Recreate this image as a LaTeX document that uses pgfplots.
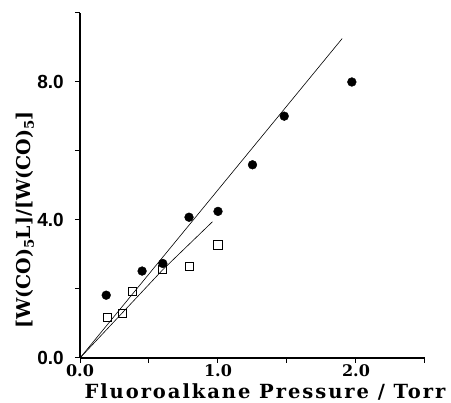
\documentclass[border=0pt]{standalone}
\usepackage{fontspec}
\setmainfont{DejaVu Serif}
\newfontfamily\tickfont{Liberation Sans}
\usepackage{pgfplots}
\pgfplotsset{compat=1.18}
\begin{document}
\begin{tikzpicture}
\useasboundingbox (0,0) rectangle (451pt,403pt);
\begin{axis}[
  at={(80pt,45pt)}, anchor=south west,
  scale only axis, width=345pt, height=345pt,
  xmin=0, xmax=2.5, ymin=0, ymax=10,
  axis x line*=bottom, axis y line*=left,
  axis line style={line width=1.1pt},
  xtick={0,0.5,...,2.5}, xticklabels={0.0,,1.0,,2.0,},
  ytick={0,2,...,10}, yticklabels={0.0,,4.0,,8.0,},
  tick align=outside, major tick length=5pt,
  tick style={line width=1pt, black},
  xticklabel style={font={\fontsize{16}{18}\selectfont\bfseries}, inner sep=1pt},
  yticklabel style={font={\fontsize{19}{20}\selectfont\tickfont\bfseries}, inner sep=2pt, xshift=-9pt},
  xlabel={Fluoroalkane Pressure / Torr},
  xlabel style={font={\fontsize{19.5}{21}\selectfont\bfseries\addfontfeature{LetterSpace=10}}, at={(axis description cs:0.536,-0.098)}, anchor=center},
  ylabel={[W(CO)\textsubscript{5}L]/[W(CO)\textsubscript{5}]},
  ylabel style={font={\fontsize{19}{21}\selectfont\bfseries}, at={(axis description cs:-0.16,0.40)}, anchor=center, rotate=0},
  clip=false,
]
\addplot[black, line width=0.6pt] coordinates {(0,0) (1.90,9.26)};
\addplot[black, line width=0.6pt] coordinates {(0,0) (0.6,2.56) (0.96,3.95)};
\addplot[only marks, mark=*, mark size=4.4pt, mark options={fill=black, draw=black}] coordinates {
(0.19,1.82) (0.45,2.52) (0.60,2.74) (0.79,4.08) (1.00,4.25) (1.25,5.60) (1.48,7.01) (1.97,8.00)};
\addplot[only marks, mark=square, mark size=4.1pt, mark options={draw=black, fill=white, line width=0.8pt}] coordinates {
(0.20,1.17) (0.31,1.30) (0.38,1.93) (0.60,2.56) (0.79,2.66) (1.00,3.28)};
\end{axis}
\end{tikzpicture}
\end{document}
